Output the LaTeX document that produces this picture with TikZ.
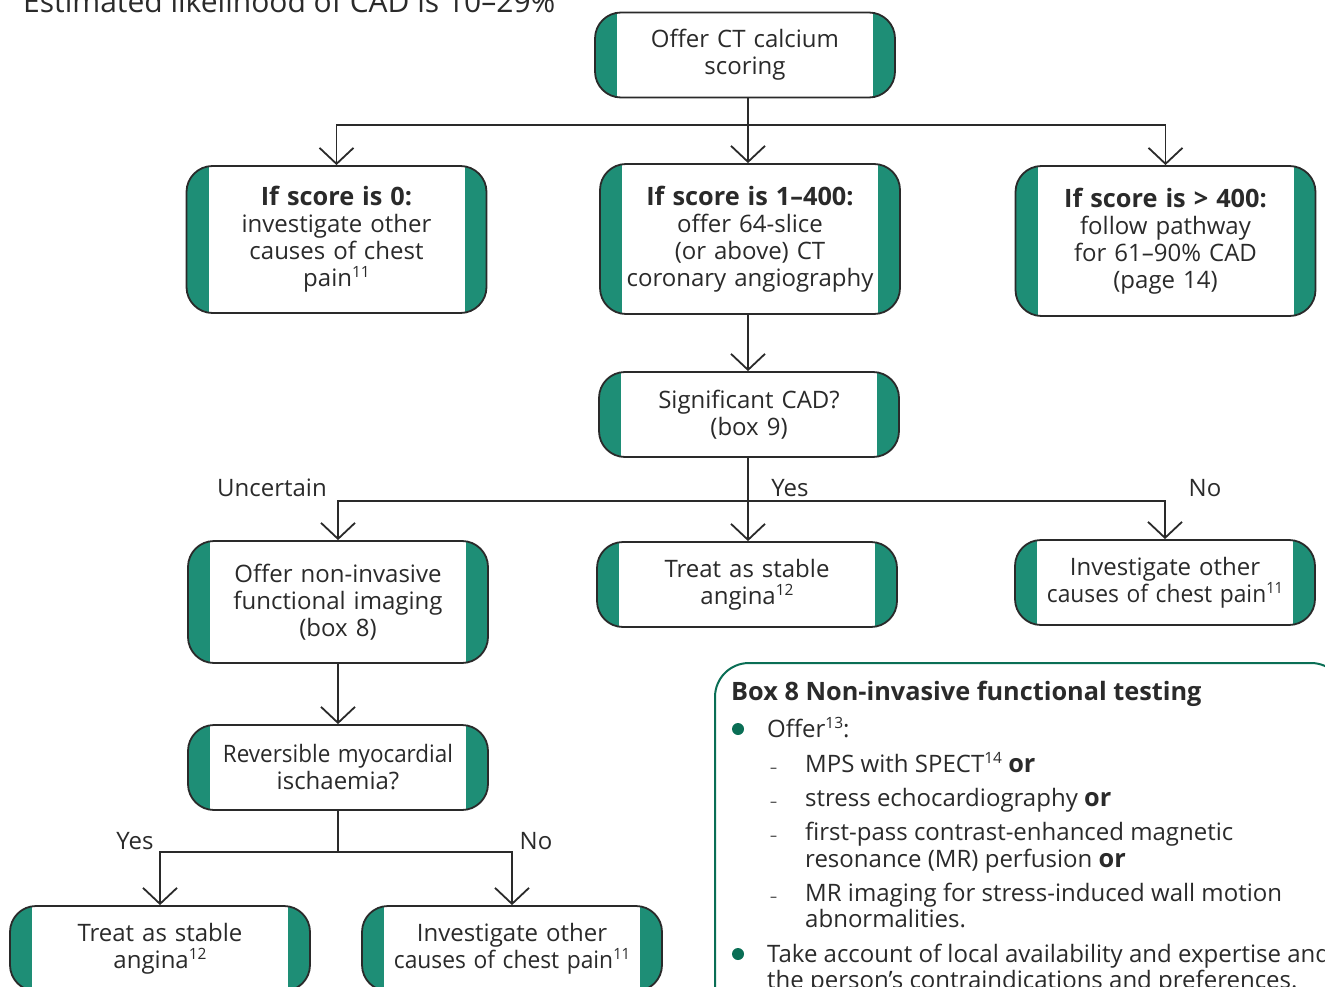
\documentclass[tikz,border=0pt]{standalone}
\usepackage{fontspec}
\usepackage{graphicx}
\setmainfont{Open Sans}
\usetikzlibrary{arrows.meta}
\definecolor{bar}{HTML}{1E8E76}
\definecolor{ink}{HTML}{2A2A2A}
\definecolor{boxgreen}{HTML}{0A6E55}
\newcommand\sups[1]{\raisebox{9pt}{\fontsize{15.5}{15.5}\selectfont #1}}
\newcommand\bld[1]{{\fontsize{25.3}{27}\selectfont\bfseries #1}}
\newcommand\cond[2]{\scalebox{#1}[1]{#2}}
\begin{document}
\begin{tikzpicture}[x=1pt,y=-1pt,
  fbox/.style={draw=ink, line width=1.8pt, rounded corners=26pt, fill=white,
    minimum width=300pt, minimum height=#1, inner sep=0pt, text width=262pt,
    align=center, text=ink, font=\fontsize{24}{27}\selectfont,
    path picture={
      \fill[bar, sharp corners] (path picture bounding box.south west) rectangle ([xshift=22pt]path picture bounding box.north west);
      \fill[bar, sharp corners] (path picture bounding box.south east) rectangle ([xshift=-22pt]path picture bounding box.north east);}},
  fbox/.default=85pt,
  conn/.style={draw=ink, line width=1.8pt},
  arr/.style={conn, -{Straight Barb[length=16pt,width=34pt]}},
  lbl/.style={anchor=base, text=ink, font=\fontsize{24}{27}\selectfont, inner sep=0pt},
  txt/.style={anchor=base west, text=ink, font=\fontsize{24}{27}\selectfont, inner sep=0pt},
  dashmark/.style={anchor=base west, text=ink, font=\fontsize{14}{14}\selectfont, inner sep=0pt},
]
\useasboundingbox (0,0) rectangle (1325,987);

% heading
\node[anchor=base west, inner sep=0pt, text=ink, font=\fontsize{30}{30}\selectfont] (head) at (23,13) {Estimated likelihood of CAD is 10–29\%};

% boxes
\node[fbox] (b0) at (745,55) {Offer CT calcium\\scoring};
\node[fbox=147pt] (b1) at (336.5,239.5) {\bld{If score is 0:}\\investigate other\\causes of chest\\pain\sups{11}};
\node[fbox=150pt] (b2) at (750,239) {\bld{If score is 1–400:}\\offer 64-slice\\(or above) CT\\coronary angiography};
\node[fbox=150pt] (b3) at (1165.5,241) {\bld{If score is > 400:}\\follow pathway\\for 61–90\% CAD\\(page 14)};
\node[fbox] (b4) at (749,414.5) {Significant CAD?\\(box 9)};
\node[fbox=122pt] (b5) at (338,602) {Offer non-invasive\\functional imaging\\(box 8)};
\node[fbox] (b6) at (747,584.5) {Treat as stable\\angina\sups{12}};
\node[fbox] (b7) at (1165,582.5) {Investigate other\\\cond{0.95}{causes of chest pain\sups{11}}};
\node[fbox] (b8) at (338,767.5) {\cond{0.935}{Reversible myocardial}\\ischaemia?};
\node[fbox] (b9) at (160,948.5) {Treat as stable\\angina\sups{12}};
\node[fbox] (b10) at (512,948.5) {Investigate other\\\cond{0.95}{causes of chest pain\sups{11}}};

% junctions
\coordinate (j1) at (748,125);
\coordinate (j2) at (748,501);
\coordinate (j3) at (338,852);

% connectors
\draw[conn] (b0.south -| j1) -- (j1);
\draw[arr] (j1) -| (b1.north);
\draw[arr] (j1) -| (b3.north);
\draw[arr] (j1) -- (j1 |- b2.north);
\draw[arr] (b2.south -| j1) -- (b4.north -| j1);
\draw[conn] (b4.south -| j2) -- (j2);
\draw[arr] (j2) -| (b5.north);
\draw[arr] (j2) -| (b7.north);
\draw[arr] (j2) -- (j2 |- b6.north);
\draw[arr] (b5.south) -- (b8.north);
\draw[conn] (b8.south) -- (j3);
\draw[arr] (j3) -| (b9.north);
\draw[arr] (j3) -| (b10.north);

% labels
\node[lbl] (lu) at (272,496) {Uncertain};
\node[lbl] (ly) at (790,496) {Yes};
\node[lbl] (ln) at (1205,496) {No};
\node[lbl] (ly2) at (135,849) {Yes};
\node[lbl] (ln2) at (536,849) {No};

% Box 8
\draw[boxgreen, line width=2pt, rounded corners=34pt] (715,1010) -- (715,663) -- (1345,663) -- (1345,1010);
\node[anchor=base west, inner sep=0pt, text=ink, font=\fontsize{25.3}{27}\selectfont\bfseries] (bt) at (731,700) {Box 8 Non-invasive functional testing};
\fill[boxgreen] (738,729) circle (6pt);
\node[txt] (i1) at (767,737) {Offer\sups{13}:};
\node[dashmark] (d1) at (770,772) {–};
\node[txt] (i2) at (805,772) {MPS with SPECT\sups{14} \bld{or}};
\node[dashmark] (d2) at (770,806) {–};
\node[txt] (i3) at (805,806) {stress echocardiography \bld{or}};
\node[dashmark] (d3) at (770,840) {–};
\node[txt] (i4) at (805,840) {first-pass contrast-enhanced magnetic};
\node[txt] (i4b) at (805,867) {resonance (MR) perfusion \bld{or}};
\node[dashmark] (d4) at (770,901) {–};
\node[txt] (i5) at (805,901) {MR imaging for stress-induced wall motion};
\node[txt] (i5b) at (805,927) {abnormalities.};
\fill[boxgreen] (738,954) circle (6pt);
\node[txt] (i6) at (767,962) {Take account of local availability and expertise and};
\node[txt] (i6b) at (767,988) {the person’s contraindications and preferences.};
\end{tikzpicture}
\end{document}
